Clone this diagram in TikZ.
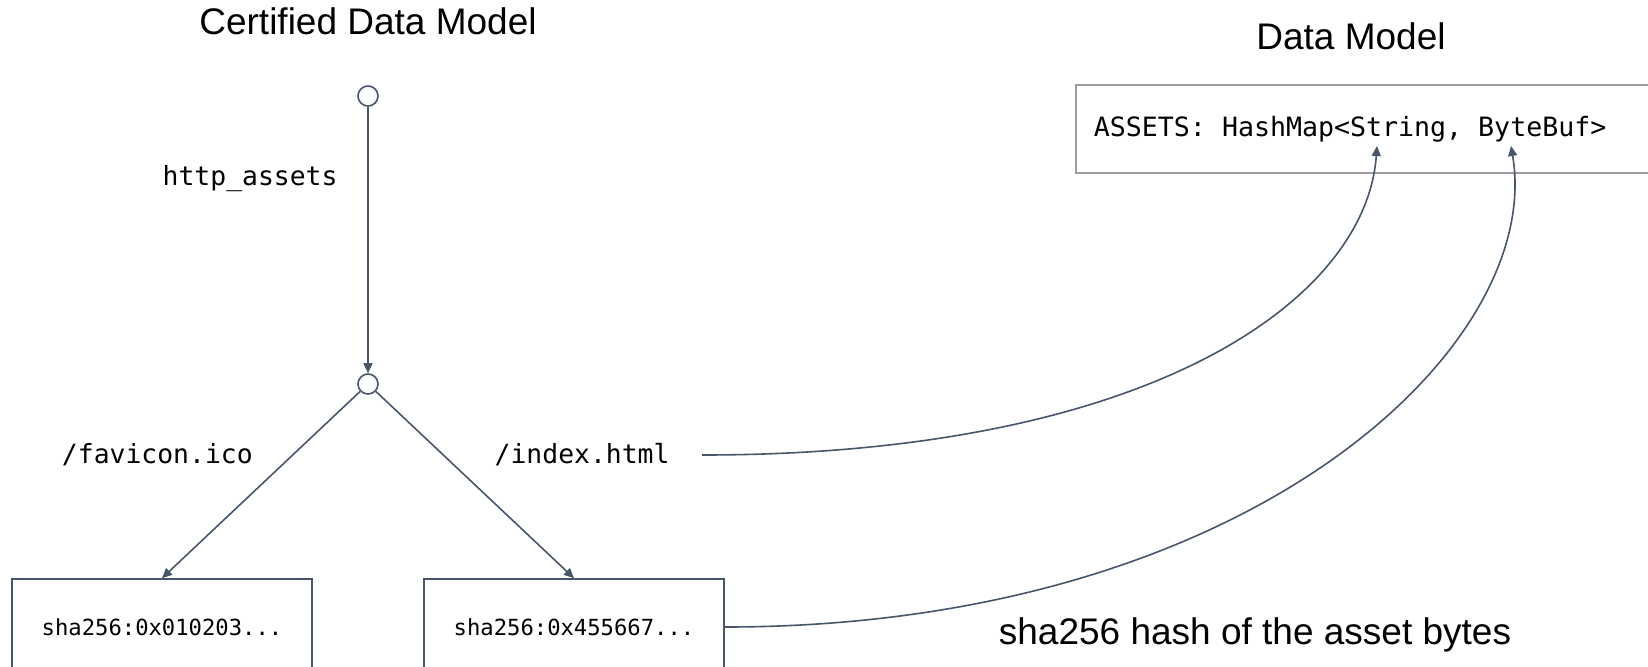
\documentclass[tikz,border=0pt]{standalone}
\usepackage{fontspec}
\setmainfont{Liberation Sans}
\setmonofont{DejaVu Sans Mono}
\usetikzlibrary{arrows.meta,positioning}
\definecolor{edgecol}{RGB}{72,86,108}
\definecolor{framegray}{RGB}{158,158,158}

\tikzset{
  certtree/.style={
    x=0.5pt, y=0.5pt,
    every node/.style={font=\ttfamily\fontsize{13.2}{16}\selectfont},
    dot/.style={
        circle,
        draw=edgecol,
        line width=0.8pt,
        fill=white,
        minimum size=10pt,
        inner sep=0pt,
    },
    hashbox/.style={
        draw=edgecol,
        line width=0.8pt,
        minimum width=150pt,
        minimum height=48pt,
        inner sep=2pt,
        font=\ttfamily\fontsize{11.1}{13}\selectfont,
    },
    title/.style={font=\fontsize{18.5}{22}\selectfont},
    link/.style={draw=edgecol,line width=0.8pt,-{Triangle[length=5pt,width=4.5pt]}},
    edge from parent/.style={link},
    level 1/.style={level distance=144pt},
    level 2/.style={level distance=121.5pt,sibling distance=206pt,child anchor=north}
  }
}

\begin{document}
\begin{tikzpicture}[certtree]
    \useasboundingbox (0,0) rectangle (1648,666);
    \node[title] (certtitle) at (368,645) {Certified Data Model};
    \node[title] (dmtitle) at (1351,630) {Data Model};
    \node[dot] (root) at (368,570) {}
    child{
        node[dot] (fork) {}
        child{
            node[hashbox] (favbox) {sha256:0x010203...}
            edge from parent node[left=16.3pt,pos=0.34] (favlabel) {/favicon.ico}
        }
        child{
            node[hashbox] (idxbox) {sha256:0x455667...}
            edge from parent node[right=22pt,pos=0.34] (idxlabel) {/index.html}
        }
        edge from parent node[left=11.5pt,pos=0.27] (httplabel) {http\_assets}
    }
    ;
    \node[draw=framegray,line width=0.9pt,anchor=west,text width=294pt,align=flush left,
          inner xsep=9pt,minimum height=44pt,font=\ttfamily\fontsize{13.3}{16}\selectfont]
          (assets) at (1075,537) {ASSETS: HashMap<String, ByteBuf>};
    \node[title] (hashnote) at (1255,31) {sha256 hash of the asset bytes};
    \coordinate (idxout) at (702,211);
    \coordinate (keyin) at (1377,520);
    \coordinate (valin) at (1511,520);
    \draw[link] (idxout) .. controls (1150,211) and (1366,366) .. (keyin);
    \draw[link] (idxbox.east) .. controls (1250,39) and (1545,320) .. (valin);
\end{tikzpicture}
\end{document}
